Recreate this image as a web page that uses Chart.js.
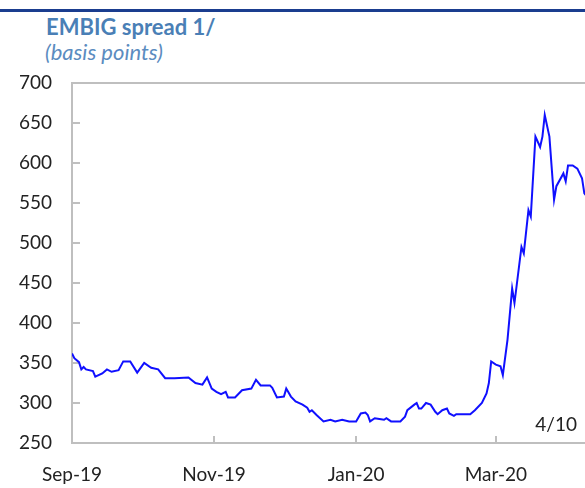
<!DOCTYPE html>
<html>
<head>
<meta charset="utf-8">
<script src="https://cdn.jsdelivr.net/npm/chart.js@4.4.1/dist/chart.umd.min.js"></script>
<style>
  html, body { margin: 0; padding: 0; background: #fff; overflow: hidden; }
  #wrap { position: relative; width: 585px; height: 488px; overflow: hidden; }
  #rule { position: absolute; left: 0; top: 9px; width: 585px; height: 3px; background: #1a3d8f; }
  #titulo { position: absolute; left: 46px; top: 15px; font: bold 22px Lato, "Open Sans", sans-serif; color: #4a7fb6; line-height: 24px; }
  #subtitulo { position: absolute; left: 45px; top: 40px; font: italic 22px Lato, "Open Sans", sans-serif; color: #5b8cc0; line-height: 24px; }
  #grafico { position: absolute; left: 0; top: 0; }
</style>
</head>
<body>
<div id="wrap">
  <div id="rule"></div>
  <div id="titulo">EMBIG spread 1/</div>
  <div id="subtitulo">(basis points)</div>
  <canvas id="grafico" width="600" height="488"></canvas>
</div>
<script>
// Datos (fecha, spread en puntos básicos)
const fechas = [
  '2019-09-01','2019-09-02','2019-09-04','2019-09-05','2019-09-06','2019-09-07','2019-09-10','2019-09-11',
  '2019-09-14','2019-09-16','2019-09-18','2019-09-21','2019-09-23','2019-09-26','2019-09-29','2019-10-02',
  '2019-10-05','2019-10-08','2019-10-11','2019-10-15','2019-10-21','2019-10-24','2019-10-27','2019-10-29',
  '2019-10-31','2019-11-02','2019-11-04','2019-11-06','2019-11-07','2019-11-10','2019-11-13','2019-11-17',
  '2019-11-19','2019-11-21','2019-11-25','2019-11-26','2019-11-28','2019-12-01','2019-12-02','2019-12-04',
  '2019-12-06','2019-12-09','2019-12-11','2019-12-12','2019-12-13','2019-12-15','2019-12-18','2019-12-21',
  '2019-12-23','2019-12-26','2019-12-29','2020-01-01','2020-01-03','2020-01-05','2020-01-06','2020-01-07',
  '2020-01-09','2020-01-11','2020-01-13','2020-01-14','2020-01-16','2020-01-20','2020-01-22','2020-01-23',
  '2020-01-26','2020-01-27','2020-01-28','2020-01-29','2020-01-31','2020-02-02','2020-02-04','2020-02-05',
  '2020-02-07','2020-02-09','2020-02-10','2020-02-12','2020-02-13','2020-02-19','2020-02-21','2020-02-24',
  '2020-02-26','2020-02-27','2020-02-28','2020-03-01','2020-03-03','2020-03-04','2020-03-06','2020-03-08',
  '2020-03-09','2020-03-12','2020-03-13','2020-03-15','2020-03-16','2020-03-18','2020-03-20','2020-03-21',
  '2020-03-22','2020-03-24','2020-03-26','2020-03-27','2020-03-30','2020-03-31','2020-04-01','2020-04-03',
  '2020-04-05','2020-04-07','2020-04-08','2020-04-10'
];
const spread = [
  362, 356, 351, 342, 345, 342, 340, 333,
  337, 342, 339, 341, 352, 352, 338, 350,
  344, 342, 331, 331, 332, 325, 323, 332,
  318, 314, 311, 314, 307, 307, 316, 318,
  329, 322, 322, 319, 307, 308, 318, 308,
  302, 298, 294, 289, 291, 285, 277, 279,
  277, 279, 277, 277, 287, 288, 285, 277,
  281, 280, 279, 281, 277, 277, 283, 291,
  298, 300, 293, 293, 300, 298, 289, 286,
  291, 293, 287, 284, 286, 286, 291, 300,
  312, 325, 352, 348, 346, 335, 379, 443,
  425, 495, 487, 541, 533, 633, 620, 633,
  660, 633, 554, 571, 587, 577, 597, 597,
  593, 581, 562, 555
];

// Etiquetas del eje X
const fechasTicks = ['2019-09-01', '2019-11-01', '2020-01-01', '2020-03-01'];
const etiquetasTicks = ['Sep-19', 'Nov-19', 'Jan-20', 'Mar-20'];
const fechaFinal = '2020-04-10';
const notaFinal = '4/10';

const DIA = 86400000;
const origen = Date.parse(fechas[0]);
const aDia = (f) => Math.round((Date.parse(f) - origen) / DIA);

const puntos = fechas.map((f, i) => ({ x: aDia(f), y: spread[i] }));
const diasTicks = fechasTicks.map(aDia);

const colorEje = '#bfbfbf';
const fuente = { family: 'Lato, "Open Sans", sans-serif', size: 19 };

// Marco y marcas interiores
const marco = {
    id: 'marco',
    beforeDatasetsDraw(chart) {
        const { ctx, chartArea: a, scales } = chart;
        ctx.save();
        ctx.strokeStyle = colorEje;
        ctx.lineWidth = 2;
        ctx.strokeRect(a.left, a.top, a.right - a.left, a.bottom - a.top);
        ctx.beginPath();
        scales.y.ticks.forEach(t => {
            const y = Math.round(scales.y.getPixelForValue(t.value));
            ctx.moveTo(a.left, y);
            ctx.lineTo(a.left + 8, y);
        });
        scales.x.ticks.forEach(t => {
            const x = Math.round(scales.x.getPixelForValue(t.value));
            ctx.moveTo(x, a.bottom);
            ctx.lineTo(x, a.bottom - 7);
        });
        ctx.stroke();
        ctx.restore();
    },
    afterDraw(chart) {
        const { ctx, chartArea: a, scales } = chart;
        ctx.save();
        ctx.fillStyle = '#222';
        ctx.font = '19px ' + fuente.family;
        ctx.textAlign = 'right';
        ctx.textBaseline = 'alphabetic';
        ctx.fillText(notaFinal, scales.x.getPixelForValue(aDia(fechaFinal)) - 12, a.bottom - 12);
        ctx.restore();
    }
};

const ctx = document.getElementById('grafico').getContext('2d');
const miGrafico = new Chart(ctx, {
    type: 'line',
    data: {
        datasets: [{
            data: puntos,
            borderColor: '#1010ff',
            borderWidth: 2,
            pointRadius: 0,
            fill: false,
            tension: 0
        }]
    },
    options: {
        responsive: false,
        animation: false,
        devicePixelRatio: 1,
        layout: { padding: { top: 83, right: 11, left: 0, bottom: 0 } },
        plugins: {
            legend: { display: false },
            tooltip: { enabled: false }
        },
        scales: {
            x: {
                type: 'linear',
                min: 0,
                max: aDia(fechaFinal),
                grid: { display: false, drawTicks: false },
                border: { display: false },
                afterBuildTicks: (s) => { s.ticks = diasTicks.map(v => ({ value: v })); },
                afterFit: (s) => { s.height = 45; },
                ticks: {
                    autoSkip: false,
                    maxRotation: 0,
                    padding: 20,
                    color: '#222',
                    font: fuente,
                    callback: (v) => etiquetasTicks[diasTicks.indexOf(v)] || ''
                }
            },
            y: {
                min: 250,
                max: 700,
                grid: { display: false, drawTicks: false },
                border: { display: false },
                afterFit: (s) => { s.width = 72; },
                ticks: {
                    stepSize: 50,
                    padding: 20,
                    color: '#222',
                    font: fuente
                }
            }
        }
    },
    plugins: [marco]
});
</script>
</body>
</html>
